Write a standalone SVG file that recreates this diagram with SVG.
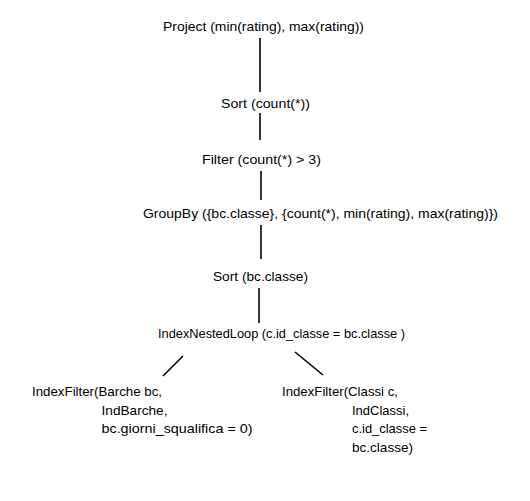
<svg xmlns="http://www.w3.org/2000/svg" width="530" height="501" viewBox="0 0 530 501">
<style>
text{font-family:"Liberation Sans",Arial,sans-serif;font-size:13.5px;fill:#000}
.c line{stroke:#000;stroke-width:1.6;stroke-linecap:butt}
</style>
<rect width="530" height="501" fill="#fff"/>
<g class="c" id="connectors">
<line x1="260" y1="38" x2="260" y2="92"/>
<line x1="260" y1="113" x2="260" y2="140"/>
<line x1="261" y1="171" x2="261" y2="200"/>
<line x1="261" y1="225" x2="261" y2="259"/>
<line x1="259" y1="288" x2="259" y2="323"/>
<line x1="183" y1="356" x2="163" y2="376"/>
<line x1="295" y1="352" x2="323" y2="375"/>
</g>
<g id="project"><text x="163" y="30.5" textLength="201" lengthAdjust="spacingAndGlyphs">Project (min(rating), max(rating))</text></g>
<g id="sort1"><text x="221" y="107.5" textLength="89" lengthAdjust="spacingAndGlyphs">Sort (count(*))</text></g>
<g id="filter"><text x="202" y="163.5" textLength="119" lengthAdjust="spacingAndGlyphs">Filter (count(*) &gt; 3)</text></g>
<g id="groupby"><text x="143" y="217.5" textLength="355" lengthAdjust="spacingAndGlyphs">GroupBy ({bc.classe}, {count(*), min(rating), max(rating)})</text></g>
<g id="sort2"><text x="213" y="280.5" textLength="95" lengthAdjust="spacingAndGlyphs">Sort (bc.classe)</text></g>
<g id="inl"><text x="158" y="337.5" textLength="247" lengthAdjust="spacingAndGlyphs">IndexNestedLoop (c.id_classe = bc.classe )</text></g>
<g id="filterBarche">
<text x="32" y="396" textLength="130" lengthAdjust="spacingAndGlyphs">IndexFilter(Barche bc,</text>
<text x="101.5" y="414.5" textLength="66" lengthAdjust="spacingAndGlyphs">IndBarche,</text>
<text x="101.5" y="433" textLength="151" lengthAdjust="spacingAndGlyphs">bc.giorni_squalifica = 0)</text>
</g>
<g id="filterClassi">
<text x="282" y="396" textLength="116" lengthAdjust="spacingAndGlyphs">IndexFilter(Classi c,</text>
<text x="352" y="414.5" textLength="57" lengthAdjust="spacingAndGlyphs">IndClassi,</text>
<text x="352" y="433" textLength="75" lengthAdjust="spacingAndGlyphs">c.id_classe =</text>
<text x="352" y="451.5" textLength="61" lengthAdjust="spacingAndGlyphs">bc.classe)</text>
</g>
</svg>
